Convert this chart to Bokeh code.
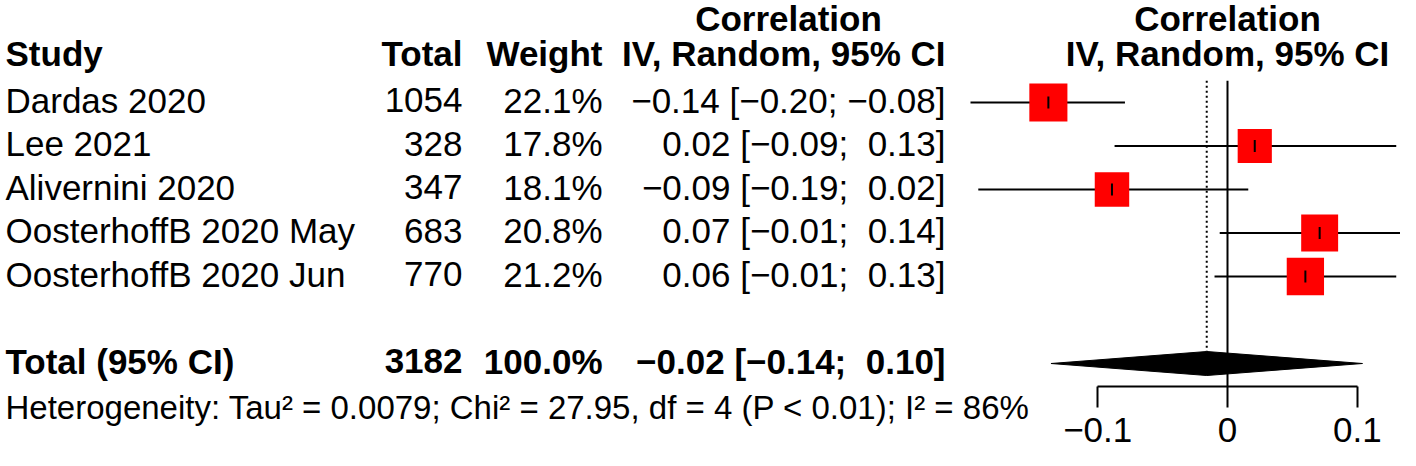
import math
from bokeh.plotting import figure
from bokeh.models import Range1d, LinearAxis, FixedTicker
from bokeh.core.properties import value
from bokeh.embed import file_html
from bokeh.resources import INLINE

# ---------------- data ----------------
studies = ["Dardas 2020", "Lee 2021", "Alivernini 2020",
           "OosterhoffB 2020 May", "OosterhoffB 2020 Jun"]
totals = [1054, 328, 347, 683, 770]
weights = [22.1, 17.8, 18.1, 20.8, 21.2]
estimates = [-0.138, 0.021, -0.089, 0.071, 0.060]
lower = [-0.198, -0.087, -0.192, -0.006, -0.010]
upper = [-0.079, 0.130, 0.016, 0.144, 0.130]

pooled_label = "Total (95% CI)"
pooled_total = 3182
pooled_weight = 100.0
pooled_est = -0.016
pooled_lower = -0.136
pooled_upper = 0.104

heterogeneity = "Heterogeneity: Tau\u00b2 = 0.0079; Chi\u00b2 = 27.95, df = 4 (P < 0.01); I\u00b2 = 86%"
col_headers = ["Study", "Total", "Weight", "IV, Random, 95% CI"]
effect_title = "Correlation"
tick_values = [-0.1, 0.0, 0.1]
tick_labels = ["\u22120.1", "0", "0.1"]

# ---------------- layout helpers ----------------
W, H = 1400, 450
X0, S = 1227.0, 1298.0          # pixel x of zero, pixels per unit correlation
ROW0, ROWH = 15.0, 43.5          # pixel y of row 0, row height
def dx(px):
    return (px - X0) / S

FONT = value("Liberation Sans")
FS = "35px"
FS_HET = "33px"
TXT_DY = -0.05   # small vertical nudge of text (rows)

def fmt(v):
    s = f"{abs(v):.2f}"
    return ("\u2212" if v < 0 else "\u00a0") + s

def ci_text(e, lo, hi):
    return f"{fmt(e)} [{fmt(lo)}; {fmt(hi)}]"

n = len(studies)
rows = [2 + i for i in range(n)]
pooled_row = rows[-1] + 2
het_row = pooled_row + 1.05
header_row = 0.93
title_row = 0.12
diamond_h = 12.0 / ROWH
axis_row = (386.0 - ROW0) / ROWH
line_top = rows[0] - 0.5

p = figure(width=W, height=H, output_backend="svg", toolbar_location=None,
           x_range=Range1d(dx(0), dx(W)),
           y_range=Range1d((H - ROW0) / ROWH, (0 - ROW0) / ROWH),
           x_axis_location=None, y_axis_location=None,
           min_border=0, outline_line_color=None)
p.xgrid.visible = False
p.ygrid.visible = False

# ---------------- forest part ----------------
p.segment(x0=[0], y0=[line_top], x1=[0], y1=[axis_row], line_color="black", line_width=2)
p.segment(x0=[pooled_est], y0=[line_top], x1=[pooled_est], y1=[pooled_row - diamond_h],
          line_color="black", line_width=2, line_dash="2 3")
p.segment(x0=lower, y0=rows, x1=upper, y1=rows, line_color="black", line_width=2)
sizes = [8.1 * math.sqrt(w) for w in weights]
p.scatter(x=estimates, y=rows, marker="square", size=sizes,
          fill_color="#FF0000", line_color=None)
p.scatter(x=estimates, y=rows, marker="dash", angle=math.pi / 2, size=12,
          line_color="black", line_width=2)
p.patch(x=[pooled_lower, pooled_est, pooled_upper, pooled_est],
        y=[pooled_row, pooled_row - diamond_h, pooled_row, pooled_row + diamond_h],
        fill_color="black", line_color="black", line_width=1)

ax = LinearAxis(ticker=FixedTicker(ticks=tick_values), fixed_location=axis_row,
                bounds=(-0.1, 0.1), major_tick_out=21, major_tick_in=0,
                minor_tick_out=0, minor_tick_in=0,
                major_label_overrides=dict(zip(tick_values, tick_labels)),
                major_label_text_font="Liberation Sans",
                major_label_text_font_size=FS, major_label_text_color="black",
                major_label_standoff=10,
                axis_line_width=2, major_tick_line_width=2,
                axis_line_color="black", major_tick_line_color="black")
p.add_layout(ax, "below")

# ---------------- text columns ----------------
def txt(x, y, t, align, bold=False, size=FS):
    p.text(x=x, y=[v + TXT_DY for v in y], text=t, text_font=FONT, text_font_size=size,
           text_font_style="bold" if bold else "normal",
           text_align=align, text_baseline="middle", text_color="black")

XL, XTOT, XW, XCI, XCORR = dx(5), dx(462), dx(602), dx(945), dx(788)

txt([0], [title_row], [effect_title], "center", bold=True)
txt([0], [header_row], [col_headers[3]], "center", bold=True)
txt([XCORR], [title_row], [effect_title], "center", bold=True)
txt([XL], [header_row], [col_headers[0]], "left", bold=True)
txt([XTOT, XW, XCI], [header_row] * 3, col_headers[1:], "right", bold=True)

txt([XL] * n, rows, studies, "left")
txt([XTOT] * n, rows, [str(t) for t in totals], "right")
txt([XW] * n, rows, [f"{w:.1f}%" for w in weights], "right")
txt([XCI] * n, rows, [ci_text(e, lo, hi) for e, lo, hi in zip(estimates, lower, upper)], "right")

txt([XL], [pooled_row], [pooled_label], "left", bold=True)
txt([XTOT, XW, XCI], [pooled_row] * 3,
    [str(pooled_total), f"{pooled_weight:.1f}%", ci_text(pooled_est, pooled_lower, pooled_upper)],
    "right", bold=True)

txt([XL], [het_row], [heterogeneity], "left", size=FS_HET)

open("out.html", "w").write(file_html(p, INLINE))
